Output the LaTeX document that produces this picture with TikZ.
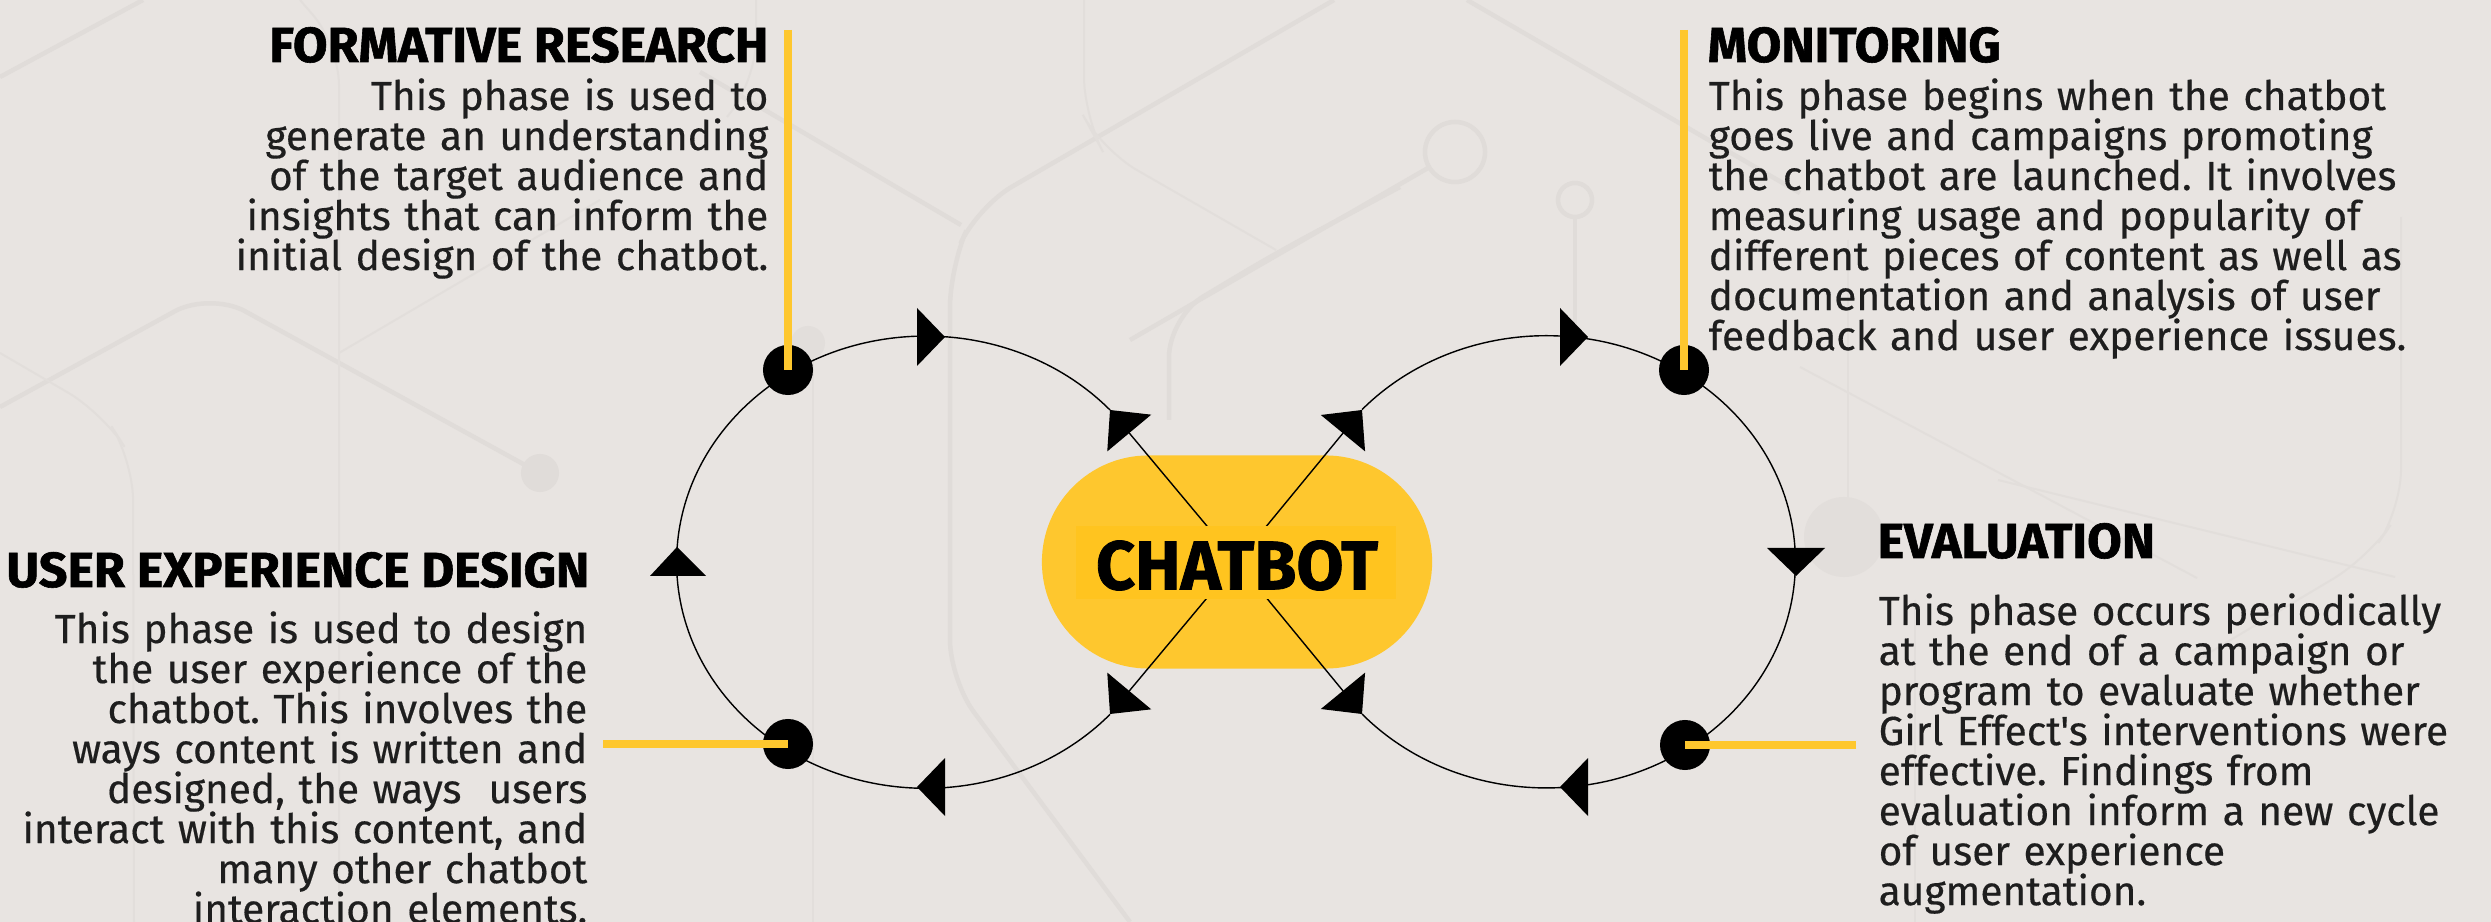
\documentclass[tikz,border=0pt]{standalone}
\usepackage{fontspec}
\setmainfont{Fira Sans}
\newfontfamily\bodyfont{Fira Sans}[FakeStretch=1.0,FakeBold=0.4]
\newfontfamily\headfont{Fira Sans}[FakeStretch=1.02,FakeBold=1.2]
\newfontfamily\cbfont{Fira Sans}[FakeStretch=0.99,FakeBold=1.2]
\usetikzlibrary{arrows.meta,shapes.misc}
\newcommand\bodysetup{\bodyfont\frenchspacing\fontsize{11.55pt}{11.38pt}\selectfont\lineskiplimit=-100pt\relax}
\definecolor{bg}{HTML}{E8E4E1}
\definecolor{pat}{HTML}{E0DCD9}
\definecolor{patlight}{HTML}{E2DEDB}
\definecolor{gold}{HTML}{FEC72E}
\definecolor{goldin}{HTML}{FFC41F}
\definecolor{ink}{HTML}{1E1E1E}
\tikzset{
  body/.style={font=\bodysetup, text=ink, inner sep=0pt, text width=9cm},
  head/.style={font=\headfont\bfseries\fontsize{14pt}{14pt}\selectfont, text=black, inner sep=0pt},
  loopline/.style={line width=0.4pt, black},
  lead/.style={gold, line width=0.08cm},
  dot/.style={circle, fill=black, minimum size=0.5cm, inner sep=0pt},
  ptn/.style={pat, line width=0.045cm, rounded corners=0.4cm},
  ptnthin/.style={patlight, line width=0.02cm, rounded corners=0.4cm},
  spoke/.style={line width=0.4pt, black, -{Triangle[length=3mm,width=5.7mm]}},
  pill/.style={rounded rectangle, fill=gold, minimum width=3.9cm, minimum height=2.13cm, inner sep=0pt},
  labelbox/.style={fill=goldin, minimum width=3.2cm, minimum height=0.73cm, inner sep=0pt},
  cbtext/.style={font=\cbfont\bfseries\fontsize{19.6pt}{20pt}\selectfont, text=black, inner sep=0pt},
}
\begin{document}
\begin{tikzpicture}[x=0.01cm,y=-0.01cm]
\fill[bg] (0,0) rectangle (2491,922);
\useasboundingbox (0,0) rectangle (2491,922);
% ---------- faint background pattern ----------
\draw[ptn] (0,407) -- (210,292) -- (525,465);
\fill[pat] (540,473) circle[radius=0.19cm];
\draw[ptnthin] (300,0) -- (339,45) -- (339,922);
\draw[ptnthin] (0,353) -- (103,413) -- (133,460) -- (134,922);
\draw[ptnthin] (339,353) -- (600,200);
\draw[ptn] (0,77) -- (143,0);
\draw[ptn] (700,72) -- (961,225);
\draw[ptnthin] (756,0) -- (756,80) -- (727,117);
\draw[ptn] (1334,0) -- (977,207) -- (950,267) -- (950,680) -- (1130,922);
\draw[ptnthin] (813,343) -- (813,922);
\fill[patlight] (808,343) circle[radius=0.17cm];
\draw[ptnthin] (1084,0) -- (1084,117) -- (1102,150) -- (1276,250);
\draw[ptn] (1400,187) -- (1276,253) -- (1169,317) -- (1169,420);
\draw[ptn] (1467,0) -- (1800,193);
\draw[ptn] (1455,152) circle[radius=0.3cm];
\draw[ptn] (1428,168) -- (1130,340);
\draw[ptn] (1575,200) circle[radius=0.17cm];
\draw[ptn] (1575,217) -- (1575,330);
\draw[ptnthin] (1800,367) -- (2197,578);
\draw[ptnthin] (1848,240) -- (1848,500);
\fill[patlight] (1844,537) circle[radius=0.4cm];
\draw[ptnthin] (1915,600) -- (1915,922);
\draw[ptnthin] (2401,217) -- (2401,510) -- (2368,558) -- (2197,660);
\draw[ptnthin] (1998,480) -- (2395,577);
% ---------- chatbot centre ----------
\node[pill] (cb) at (1237,562) {};
\coordinate (tl) at (1110,410);
\coordinate (bl) at (1110,714);
\coordinate (tr) at (1362,410);
\coordinate (br) at (1362,714);
\draw[spoke] (cb.center) -- (tl);
\draw[spoke] (cb.center) -- (bl);
\draw[spoke] (cb.center) -- (tr);
\draw[spoke] (cb.center) -- (br);
\node[labelbox] (cbbox) at (1236,562.5) {};
\node[cbtext] (cbt) at (1237,565.5) {CHATBOT};
% ---------- loops ----------
\draw[loopline] (tl) arc[start angle=42.3, end angle=317.7, x radius=2.49cm, y radius=2.26cm];
\draw[loopline] (br) arc[start angle=222.3, end angle=497.7, x radius=2.49cm, y radius=2.26cm];
% arrowheads on the loops
\fill (917,308) -- (945,337) -- (917,366) -- cycle;
\fill (650,576) -- (677,547) -- (706,576) -- cycle;
\fill (945,758) -- (917,787) -- (945,816) -- cycle;
\fill (1560,308) -- (1588,337) -- (1560,366) -- cycle;
\fill (1767,548) -- (1796,576) -- (1825,548) -- cycle;
\fill (1588,758) -- (1560,787) -- (1588,816) -- cycle;
% dots
\node[dot] (d1) at (788,370) {};
\node[dot] (d2) at (1684,370) {};
\node[dot] (d3) at (788,744) {};
\node[dot] (d4) at (1685,745) {};
% yellow leaders
\coordinate (l1) at (788,30);
\coordinate (l2) at (1684,30);
\coordinate (l3) at (603,744);
\coordinate (l4) at (1856,745);
\draw[lead] (l1) -- (d1.center);
\draw[lead] (l2) -- (d2.center);
\draw[lead] (l3) -- (d3.center);
\draw[lead] (l4) -- (d4.center);
% ---------- texts ----------
\node[head, anchor=base east] (frh) at (769,62) {FORMATIVE RESEARCH};
\node[body, anchor=base east, align=right] (frb) at (769,110) {This phase is used to\\generate an understanding\\of the target audience and\\insights that can inform the\\initial design of the chatbot.};
\node[head, anchor=base west] (moh) at (1707,62) {MONITORING};
\node[body, anchor=base west, align=left] (mob) at (1708,110) {This phase begins when the chatbot\\goes live and campaigns promoting\\the chatbot are launched. It involves\\measuring usage and popularity of\\different pieces of content as well as\\documentation and analysis of user\\feedback and user experience issues.};
\node[head, anchor=base east] (uxh) at (590,587) {USER EXPERIENCE DESIGN};
\node[body, anchor=base east, align=right] (uxb) at (588,643) {This phase is used to design\\the user experience of the\\chatbot. This involves the\\ways content is written and\\designed, the ways\ \ users\\interact with this content, and\\many other chatbot\\interaction elements.};
\node[head, anchor=base west] (evh) at (1877,558) {EVALUATION};
\node[body, anchor=base west, align=left] (evb) at (1878,625) {This phase occurs periodically\\at the end of a campaign or\\program to evaluate whether\\Girl Effect\char"27 s interventions were\\effective. Findings from\\evaluation inform a new cycle\\of user experience\\augmentation.};
\end{tikzpicture}
\end{document}
